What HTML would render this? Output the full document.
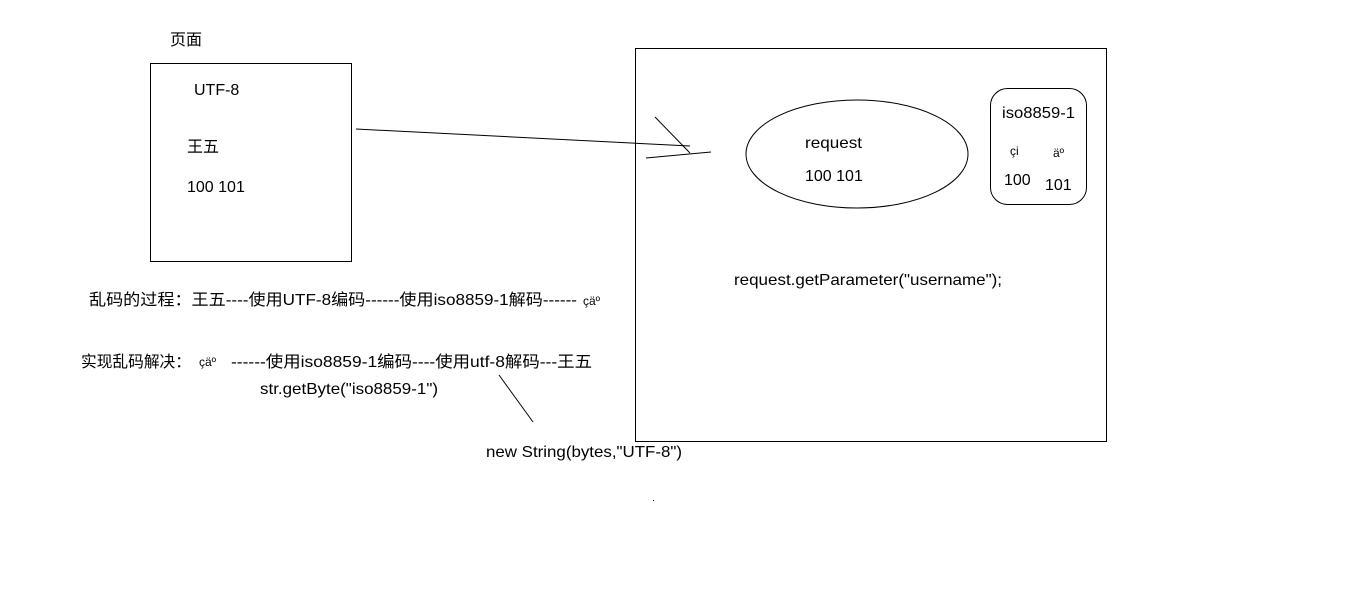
<!DOCTYPE html>
<html><head><meta charset="utf-8"><style>
html,body{margin:0;padding:0;background:#fff;width:1350px;height:609px;overflow:hidden}
text{font-family:"Liberation Sans","Noto Sans CJK SC",sans-serif;font-size:16px;fill:#000}
</style></head><body>
<svg width="1350" height="609" xmlns="http://www.w3.org/2000/svg">
<g fill="none" stroke="#000" stroke-width="1">
<rect x="150.5" y="63.5" width="201" height="198"/>
<rect x="635.5" y="48.5" width="471" height="393"/>
<ellipse cx="857" cy="154" rx="111" ry="54"/>
<rect x="990.5" y="88.5" width="96" height="116" rx="17"/>
<line x1="356" y1="129" x2="690" y2="146"/>
<line x1="655" y1="117" x2="690" y2="153"/>
<line x1="646" y1="158" x2="711" y2="152"/>
<line x1="499" y1="375" x2="533" y2="422"/>
</g>
<rect x="653" y="500" width="1" height="1" fill="#000"/>
<text x="170" y="45">页面</text>
<text x="194" y="95">UTF-8</text>
<text x="187" y="152">王五</text>
<text x="187" y="192">100 101</text>
<text x="805" y="148" textLength="57" lengthAdjust="spacingAndGlyphs">request</text>
<text x="805" y="181">100 101</text>
<text x="1002" y="118" textLength="73" lengthAdjust="spacingAndGlyphs">iso8859-1</text>
<text x="1010" y="155" style="font-size:12px">çi</text>
<text x="1053" y="157" style="font-size:12px">äº</text>
<text x="1004" y="185">100</text>
<text x="1045" y="190">101</text>
<text x="734" y="285" textLength="268" lengthAdjust="spacingAndGlyphs">request.getParameter("username");</text>
<text x="89" y="305" textLength="488" lengthAdjust="spacingAndGlyphs">乱码的过程：王五----使用UTF-8编码------使用iso8859-1解码------</text>
<text x="583" y="305" style="font-size:12px">çäº</text>
<text x="81" y="367" textLength="110" lengthAdjust="spacingAndGlyphs">实现乱码解决：</text>
<text x="199" y="366" style="font-size:12px">çäº</text>
<text x="231" y="367" textLength="361" lengthAdjust="spacingAndGlyphs">------使用iso8859-1编码----使用utf-8解码---王五</text>
<text x="260" y="394" textLength="178" lengthAdjust="spacingAndGlyphs">str.getByte("iso8859-1")</text>
<text x="486" y="457" textLength="196" lengthAdjust="spacingAndGlyphs">new String(bytes,"UTF-8")</text>
</svg>
</body></html>
